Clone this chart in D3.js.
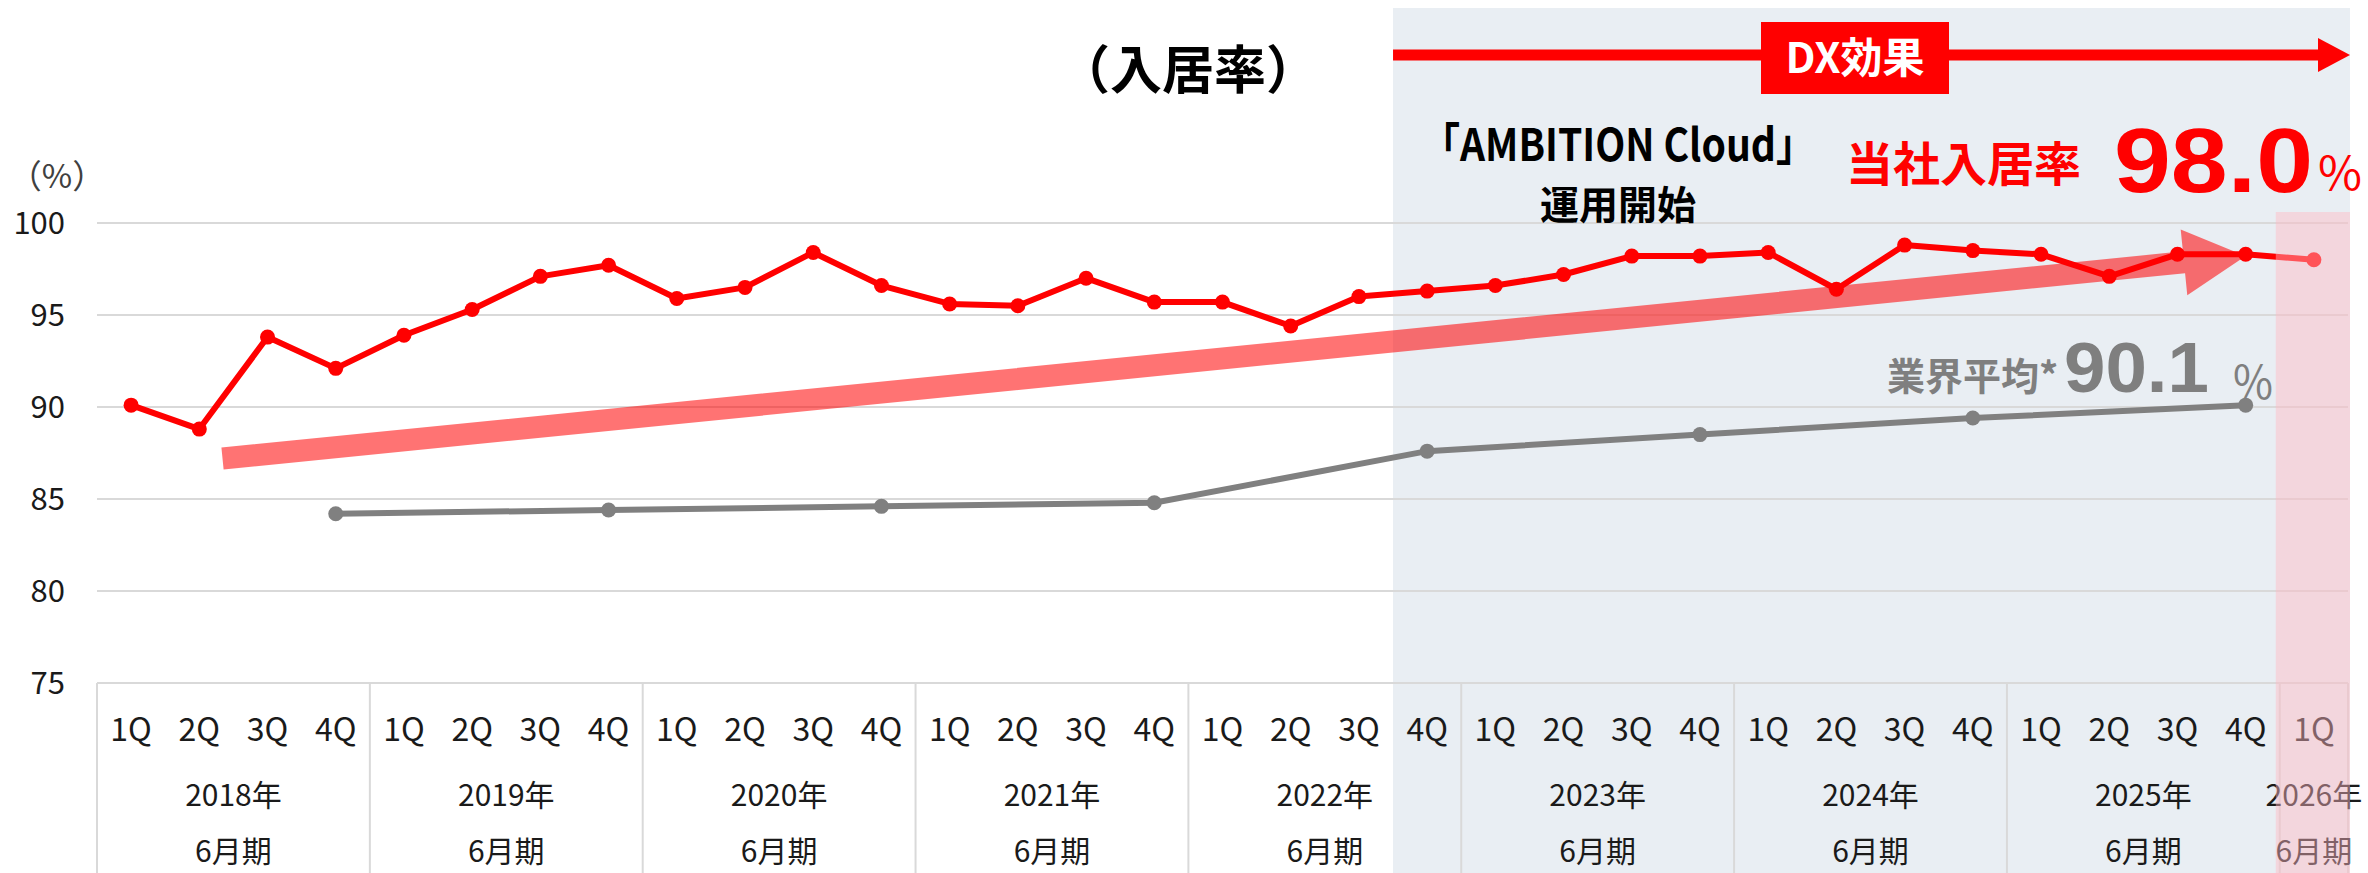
<!DOCTYPE html>
<html>
<head>
<meta charset="utf-8">
<script src="https://cdn.jsdelivr.net/npm/d3@7"></script>
<style>
  body { margin: 0; background: #fff; }
  svg { display: block; }
</style>
</head>
<body>
<div id="chart"></div>
<script>
// ---- data ----
const quarterLabels = ["1Q", "2Q", "3Q", "4Q"]
const fiscalYears = ["2018年", "2019年", "2020年", "2021年", "2022年", "2023年", "2024年", "2025年", "2026年"]
const quartersPerYear = [4, 4, 4, 4, 4, 4, 4, 4, 1]
const periodLabel = "6月期"
const yTicks = [75, 80, 85, 90, 95, 100]

// 当社入居率 (quarterly, 2018年1Q .. 2026年1Q)
const occupancyRate = [
    90.1, 88.8, 93.8, 92.1,
    93.9, 95.3, 97.1, 97.7,
    95.9, 96.5, 98.4, 96.6,
    95.6, 95.5, 97.0, 95.7,
    95.7, 94.4, 96.0, 96.3,
    96.6, 97.2, 98.2, 98.2,
    98.4, 96.4, 98.8, 98.5,
    98.3, 97.1, 98.3, 98.3,
    98.0
]

// 業界平均 (annual, plotted at each 4Q)
const industryKeys = ["2018年-4Q", "2019年-4Q", "2020年-4Q", "2021年-4Q", "2022年-4Q", "2023年-4Q", "2024年-4Q", "2025年-4Q"]
const industryAvg = [84.2, 84.4, 84.6, 84.8, 87.6, 88.5, 89.4, 90.1]

// trend arrow ends: position in quarters from the left edge, value in %
const trendFrom = { pos: 1.84, value: 87.2 }
const trendTo = { pos: 31.5, value: 98.2 }

const dxStartKey = "2022年-4Q"
const forecastKey = "2026年-1Q"

// ---- layout ----
const width = 2368, height = 873
const plotLeft = 97, plotRight = 2348, plotTop = 223, axisY = 683

const categories = fiscalYears.flatMap((yr, i) =>
    quarterLabels.slice(0, quartersPerYear[i]).map(q => `${yr}-${q}`))

const x = d3.scaleBand().domain(categories).range([plotLeft, plotRight])
const cx = k => x(k) + x.bandwidth() / 2
const xPos = d3.scaleLinear().domain([0, categories.length]).range([plotLeft, plotRight])
const y = d3.scaleLinear().domain([75, 100]).range([axisY, plotTop])

const font = "'Noto Sans CJK JP', 'Noto Sans', sans-serif"
const numFont = "'Liberation Sans', Arial, sans-serif"

const svg = d3.select("#chart").append("svg")
    .attr("width", width)
    .attr("height", height)
    .style("font-family", font)

// DX period background
svg.append("rect")
    .attr("x", x(dxStartKey))
    .attr("y", 8)
    .attr("width", plotRight + 2 - x(dxStartKey))
    .attr("height", height - 8)
    .attr("fill", "#e9eef3")

// gridlines
svg.append("g")
    .selectAll("line")
    .data(yTicks)
    .join("line")
    .attr("x1", plotLeft).attr("x2", plotRight)
    .attr("y1", d => y(d)).attr("y2", d => y(d))
    .attr("stroke", "#d9d9d9")
    .attr("stroke-width", 2)

// y labels
svg.append("g")
    .selectAll("text")
    .data(yTicks)
    .join("text")
    .attr("x", 65)
    .attr("y", d => y(d) - 3)
    .attr("text-anchor", "end")
    .attr("dominant-baseline", "central")
    .attr("font-size", 31)
    .attr("fill", "#1a1a1a")
    .text(d => d)

svg.append("text")
    .attr("x", 57).attr("y", 174)
    .attr("text-anchor", "middle")
    .attr("dominant-baseline", "central")
    .attr("font-size", 33)
    .attr("fill", "#404040")
    .text("（%）")

// category table
const yearStarts = fiscalYears.map(yr => x(`${yr}-1Q`))
svg.append("g")
    .selectAll("line")
    .data([...yearStarts, plotRight])
    .join("line")
    .attr("x1", d => d).attr("x2", d => d)
    .attr("y1", axisY).attr("y2", height)
    .attr("stroke", "#d9d9d9")
    .attr("stroke-width", 2)

svg.append("g")
    .selectAll("text")
    .data(categories)
    .join("text")
    .attr("x", d => cx(d))
    .attr("y", 727)
    .attr("text-anchor", "middle")
    .attr("dominant-baseline", "central")
    .attr("font-size", 32)
    .attr("fill", "#1a1a1a")
    .text(d => d.split("-")[1])

const yearGroups = svg.append("g")
    .selectAll("g")
    .data(fiscalYears)
    .join("g")
    .attr("transform", (d, i) => {
        const n = quartersPerYear[i]
        const x0 = x(`${d}-1Q`)
        return `translate(${x0 + n * x.bandwidth() / 2},0)`
    })
yearGroups.append("text")
    .attr("y", 793)
    .attr("text-anchor", "middle")
    .attr("dominant-baseline", "central")
    .attr("font-size", 30)
    .attr("fill", "#1a1a1a")
    .text(d => d)
yearGroups.append("text")
    .attr("y", 849)
    .attr("text-anchor", "middle")
    .attr("dominant-baseline", "central")
    .attr("font-size", 30)
    .attr("fill", "#1a1a1a")
    .text(periodLabel)

// trend arrow
{
    const x1 = xPos(trendFrom.pos), y1 = y(trendFrom.value)
    const x2 = xPos(trendTo.pos), y2 = y(trendTo.value)
    const len = Math.hypot(x2 - x1, y2 - y1)
    const ux = (x2 - x1) / len, uy = (y2 - y1) / len
    const nx = -uy, ny = ux
    const shaft = 11, head = 33, headLen = 62
    const bx = x2 - ux * headLen, by = y2 - uy * headLen
    const pts = [
        [x1 + nx * shaft, y1 + ny * shaft],
        [bx + nx * shaft, by + ny * shaft],
        [bx + nx * head, by + ny * head],
        [x2, y2],
        [bx - nx * head, by - ny * head],
        [bx - nx * shaft, by - ny * shaft],
        [x1 - nx * shaft, y1 - ny * shaft]
    ]
    svg.append("polygon")
        .attr("points", pts.map(p => p.join(",")).join(" "))
        .attr("fill", "#ff0000")
        .attr("fill-opacity", 0.55)
}

// industry average line
const industry = industryKeys.map((k, i) => ({ key: k, value: industryAvg[i] }))
const line = d3.line().x(d => cx(d.key)).y(d => y(d.value))

svg.append("path")
    .datum(industry)
    .attr("fill", "none")
    .attr("stroke", "#808080")
    .attr("stroke-width", 6)
    .attr("d", line)
svg.append("g")
    .selectAll("circle")
    .data(industry)
    .join("circle")
    .attr("cx", d => cx(d.key))
    .attr("cy", d => y(d.value))
    .attr("r", 7.5)
    .attr("fill", "#808080")

// occupancy line
const occ = categories.map((k, i) => ({ key: k, value: occupancyRate[i] }))
svg.append("path")
    .datum(occ)
    .attr("fill", "none")
    .attr("stroke", "#ff0000")
    .attr("stroke-width", 6)
    .attr("stroke-linejoin", "round")
    .attr("d", line)
svg.append("g")
    .selectAll("circle")
    .data(occ)
    .join("circle")
    .attr("cx", d => cx(d.key))
    .attr("cy", d => y(d.value))
    .attr("r", 7.5)
    .attr("fill", "#ff0000")

// title
svg.append("text")
    .attr("x", 1188).attr("y", 89)
    .attr("text-anchor", "middle")
    .attr("font-size", 52)
    .attr("font-weight", "bold")
    .attr("fill", "#000")
    .text("（入居率）")

// DX arrow
{
    const xs = x(dxStartKey), xe = plotRight + 2, ay = 55
    svg.append("line")
        .attr("x1", xs).attr("x2", xe - 30)
        .attr("y1", ay).attr("y2", ay)
        .attr("stroke", "#ff0000")
        .attr("stroke-width", 11)
    svg.append("polygon")
        .attr("points", `${xe - 32},${ay - 17} ${xe},${ay} ${xe - 32},${ay + 17}`)
        .attr("fill", "#ff0000")
    svg.append("rect")
        .attr("x", 1761).attr("y", 22)
        .attr("width", 188).attr("height", 72)
        .attr("fill", "#ff0000")
    svg.append("text")
        .attr("x", 1855).attr("y", 73)
        .attr("text-anchor", "middle")
        .attr("font-size", 42)
        .attr("font-weight", "bold")
        .attr("fill", "#fff")
        .text("DX効果")
}

// annotations
svg.append("text")
    .attr("x", 1421).attr("y", 161)
    .attr("font-size", 45)
    .attr("font-weight", "bold")
    .attr("textLength", 394)
    .attr("lengthAdjust", "spacingAndGlyphs")
    .attr("fill", "#000")
    .text("「AMBITION Cloud」")
svg.append("text")
    .attr("x", 1618).attr("y", 219)
    .attr("text-anchor", "middle")
    .attr("font-size", 39)
    .attr("font-weight", "bold")
    .attr("fill", "#000")
    .text("運用開始")

svg.append("text")
    .attr("x", 1846).attr("y", 181)
    .attr("font-size", 47)
    .attr("font-weight", "bold")
    .attr("fill", "#ff0000")
    .text("当社入居率")
svg.append("text")
    .attr("x", 2114).attr("y", 192)
    .attr("font-family", numFont)
    .attr("font-size", 90)
    .attr("font-weight", "bold")
    .attr("textLength", 199)
    .attr("lengthAdjust", "spacingAndGlyphs")
    .attr("fill", "#ff0000")
    .text(d3.format(".1f")(occupancyRate[occupancyRate.length - 1]))
svg.append("text")
    .attr("x", 2318).attr("y", 190)
    .attr("font-size", 46)
    .attr("textLength", 44)
    .attr("lengthAdjust", "spacingAndGlyphs")
    .attr("fill", "#ff0000")
    .text("%")

svg.append("text")
    .attr("x", 1887).attr("y", 390)
    .attr("font-size", 38)
    .attr("font-weight", "bold")
    .attr("fill", "#7f7f7f")
    .text("業界平均*")
svg.append("text")
    .attr("x", 2064).attr("y", 392)
    .attr("font-family", numFont)
    .attr("font-size", 70)
    .attr("font-weight", "bold")
    .attr("textLength", 145)
    .attr("lengthAdjust", "spacingAndGlyphs")
    .attr("fill", "#7f7f7f")
    .text(d3.format(".1f")(industryAvg[industryAvg.length - 1]))
svg.append("text")
    .attr("x", 2233).attr("y", 399)
    .attr("font-size", 46)
    .attr("textLength", 40)
    .attr("lengthAdjust", "spacingAndGlyphs")
    .attr("fill", "#7f7f7f")
    .text("%")

// forecast overlay
svg.append("rect")
    .attr("x", x(forecastKey) - 4)
    .attr("y", 212)
    .attr("width", plotRight + 2 - x(forecastKey) + 4)
    .attr("height", height - 212)
    .attr("fill", "rgb(255,185,195)")
    .attr("fill-opacity", 0.45)
</script>
</body>
</html>
